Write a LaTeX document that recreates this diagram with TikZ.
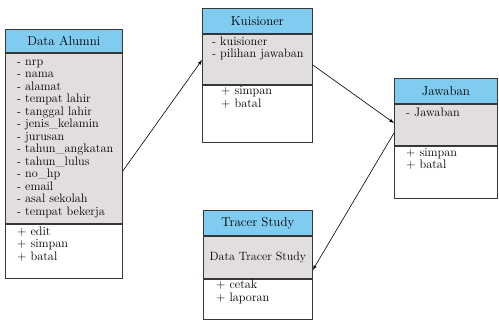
\documentclass[tikz,border=0pt]{standalone}
\usetikzlibrary{positioning}

\definecolor{headblue}{RGB}{128,204,240}
\definecolor{attrgray}{RGB}{226,222,222}
\definecolor{boxline}{RGB}{55,55,55}

\tikzset{
  sect/.style={draw=boxline, line width=0.8pt, inner sep=0pt, anchor=north west,
    font=\fontsize{12}{12.5}\selectfont},
  head/.style={sect, fill=headblue, font=\fontsize{13}{13}\selectfont},
  attrs/.style={sect, fill=attrgray},
  meths/.style={sect, fill=white},
  txt/.style={inner sep=0pt, anchor=north west, align=left,
    font=\fontsize{12.3}{12.5}\selectfont},
  link/.style={-latex, line width=0.6pt}
}

\begin{document}
\begin{tikzpicture}[x=1pt, y=-1pt]
\useasboundingbox (0,0) rectangle (499,322);

% Data Alumni
\node[head, minimum width=117pt, minimum height=23pt] (alumniT) at (5,29) {Data Alumni};
\node[attrs, minimum width=117pt, minimum height=170pt] (alumniAttr) at (alumniT.south west) {};
\node[meths, minimum width=117pt, minimum height=54pt] (alumniMeth) at (alumniAttr.south west) {};
\node[txt] (alumniAttrTxt) at ([xshift=12pt, yshift=-3.5pt]alumniAttr.north west)
  {\strut- nrp\\- nama\\- alamat\\- tempat lahir\\- tanggal lahir\\- jenis\_kelamin\\- jurusan\\
   - tahun\_angkatan\\- tahun\_lulus\\- no\_hp\\- email\\- asal sekolah\\- tempat bekerja};
\node[txt] (alumniMethTxt) at ([xshift=12pt, yshift=-2.5pt]alumniMeth.north west)
  {\strut+ edit\\+ simpan\\+ batal};

% Kuisioner
\node[head, minimum width=110pt, minimum height=25pt] (kuisT) at (202,8) {Kuisioner};
\node[attrs, minimum width=110pt, minimum height=50pt] (kuisAttr) at (kuisT.south west) {};
\node[meths, minimum width=110pt, minimum height=57pt] (kuisMeth) at (kuisAttr.south west) {};
\node[txt, font=\fontsize{12.3}{11}\selectfont] (kuisAttrTxt) at ([xshift=10pt, yshift=-2.5pt]kuisAttr.north west)
  {\strut- kuisioner\\- pilihan jawaban};
\node[txt, font=\fontsize{12.3}{11}\selectfont] (kuisMethTxt) at ([xshift=19pt, yshift=-1.5pt]kuisMeth.north west)
  {\strut+ simpan\\+ batal};

% Jawaban
\node[head, minimum width=103pt, minimum height=25pt] (jawabT) at (394,78) {Jawaban};
\node[attrs, minimum width=103pt, minimum height=41pt] (jawabAttr) at (jawabT.south west) {};
\node[meths, minimum width=103pt, minimum height=52pt] (jawabMeth) at (jawabAttr.south west) {};
\node[txt] (jawabAttrTxt) at ([xshift=12pt, yshift=-4pt]jawabAttr.north west)
  {\strut- Jawaban};
\node[txt] (jawabMethTxt) at ([xshift=12pt, yshift=-1.5pt]jawabMeth.north west)
  {\strut+ simpan\\+ batal};

% Tracer Study
\node[head, minimum width=109pt, minimum height=25pt] (tracerT) at (203,210) {Tracer Study};
\node[attrs, minimum width=109pt, minimum height=42pt] (tracerData) at (tracerT.south west) {Data Tracer Study};
\node[meths, minimum width=109pt, minimum height=40pt] (tracerMeth) at (tracerData.south west) {};
\node[txt] (tracerMethTxt) at ([xshift=13pt, yshift=-1pt]tracerMeth.north west)
  {\strut+ cetak\\+ laporan};

% relasi
\coordinate (a1s) at (alumniAttr.east |- 0,171);
\coordinate (a1e) at (kuisAttr.west |- 0,60);
\coordinate (a2s) at (kuisAttr.east |- 0,65);
\coordinate (a2e) at (jawabAttr.west |- 0,123);
\coordinate (a3s) at (jawabAttr.west |- 0,133);
\coordinate (a3e) at (tracerData.east |- 0,270);

\draw[link] (a1s) -- (a1e);
\draw[link] (a2s) -- (a2e);
\draw[link] (a3s) -- (a3e);
\end{tikzpicture}
\end{document}
